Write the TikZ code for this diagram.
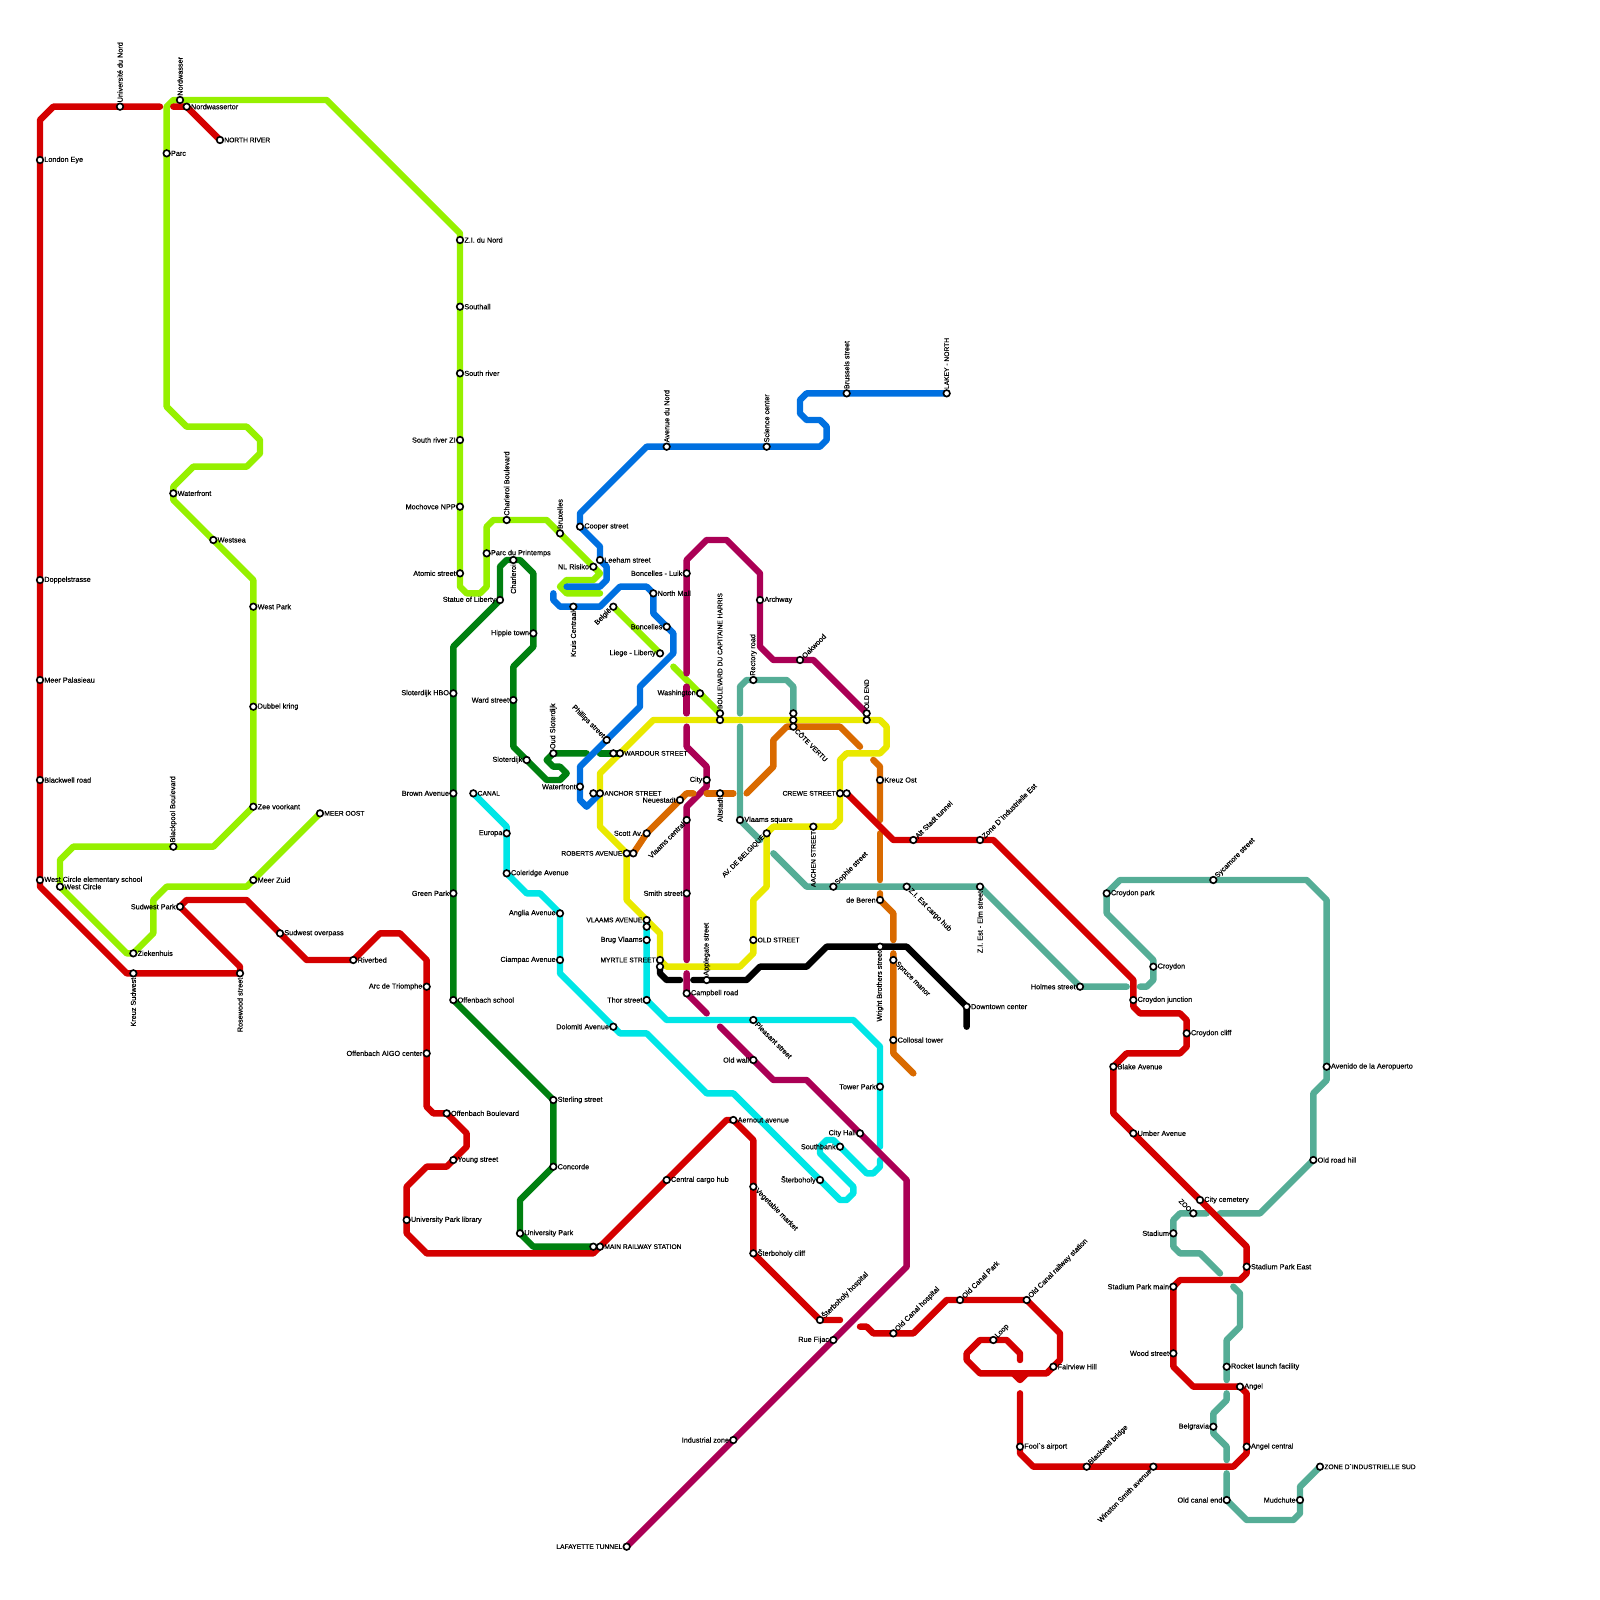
\documentclass[tikz,border=0pt]{standalone}
\usepackage{fontspec}
\newfontfamily\labfont[FakeBold=0.4]{Liberation Sans}
\usetikzlibrary{backgrounds}

\definecolor{redl}{HTML}{D40000}
\definecolor{limel}{HTML}{96F000}
\definecolor{bluel}{HTML}{0070E0}
\definecolor{greenl}{HTML}{008010}
\definecolor{magl}{HTML}{AA0055}
\definecolor{yell}{HTML}{E9E900}
\definecolor{teall}{HTML}{55AD96}
\definecolor{cyanl}{HTML}{00E6E6}
\definecolor{orl}{HTML}{D96A00}

\newcommand{\capsz}{\fontsize{5.7}{7}\selectfont}

\tikzset{
  stn/.style={circle,draw=black,fill=white,line width=1.4pt,minimum size=5.6pt,inner sep=0pt,label distance=1.8pt},
  labtext/.style={font=\labfont\fontsize{6.2}{7}\selectfont,inner sep=0pt,text=black},
  tr/.style={label={[labtext,anchor=west]right:#1}},
  tl/.style={label={[labtext,anchor=east]left:#1}},
  tu/.style={label={[labtext,rotate=90,anchor=west]90:#1}},
  td/.style={label={[labtext,rotate=90,anchor=east]270:#1}},
  tne/.style={label={[labtext,rotate=45,anchor=west]45:#1}},
  tse/.style={label={[labtext,rotate=-45,anchor=west]-45:#1}},
  tsw/.style={label={[labtext,rotate=45,anchor=east]225:#1}},
  tnw/.style={label={[labtext,rotate=-45,anchor=east]135:#1}},
  metro/.style={line width=5.5pt,line cap=round,line join=round},
}

\begin{document}
\begin{tikzpicture}[x=0.2cm,y=-0.2cm]
\useasboundingbox (0,0) rectangle (240,240);

\node[stn,tu=Université du Nord] (unord) at (18,16) {};
\node[stn,tr=London Eye] (londoneye) at (6,24) {};
\node[stn,tr=Doppelstrasse] (doppel) at (6,87) {};
\node[stn,tr=Meer Palasieau] (meerpal) at (6,102) {};
\node[stn,tr=Blackwell road] (blackwellrd) at (6,117) {};
\node[stn,tr=West Circle elementary school] (westschool) at (6,132) {};
\node[stn,tr=West Circle] (westcircle) at (9,133) {};
\node[stn,tr=Ziekenhuis] (zieken) at (20,143) {};
\node[stn,td=Kreuz Sudwest] (kreuzsw) at (20,146) {};
\node[stn,td=Rosewood street] (rosewood) at (36,146) {};
\node[stn,tl=Sudwest Park] (sudwestpk) at (27,136) {};
\node[stn,tr=Sudwest overpass] (sudwestov) at (42,140) {};
\node[stn,tr=Riverbed] (riverbed) at (53,144) {};
\node[stn,tl=Arc de Triomphe] (arc) at (64,148) {};
\node[stn,tl=Offenbach AIGO center] (aigo) at (64,158) {};
\node[stn,tr=Offenbach Boulevard] (offblvd) at (67,167) {};
\node[stn,tr=Young street] (young) at (68,174) {};
\node[stn,tr=University Park library] (unilib) at (61,183) {};

\node[stn,tu=Nordwasser] (nordw) at (27,15) {};
\node[stn,tr=Nordwassertor] (nordwt) at (28,16) {};
\node[stn,tr=\capsz NORTH RIVER] (northriver) at (33,21) {};
\node[stn,tr=Parc] (parc) at (25,23) {};
\node[stn,tr=Waterfront] (waterfronta) at (26,74) {};
\node[stn,tr=Westsea] (westsea) at (32,81) {};
\node[stn,tr=West Park] (westpark) at (38,91) {};
\node[stn,tr=Dubbel kring] (dubbel) at (38,106) {};
\node[stn,tr=Zee voorkant] (zee) at (38,121) {};
\node[stn,tu=Blackpool Boulevard] (blackpool) at (26,127) {};
\node[stn,tr=Meer Zuid] (meerzuid) at (38,132) {};
\node[stn,tr=\capsz MEER OOST] (meeroost) at (48,122) {};

\node[stn,tr=Z.I. du Nord] (zinord) at (69,36) {};
\node[stn,tr=Southall] (southall) at (69,46) {};
\node[stn,tr=South river] (southriver) at (69,56) {};
\node[stn,tl=South river ZI] (southzi) at (69,66) {};
\node[stn,tl=Mochovce NPP] (mochovce) at (69,76) {};
\node[stn,tl=Atomic street] (atomic) at (69,86) {};
\node[stn,tu=Charleroi Boulevard] (charblvd) at (76,78) {};
\node[stn,tr=Parc du Printemps] (printemps) at (73,83) {};
\node[stn,tu=Bruxelles] (bruxelles) at (84,80) {};
\node[stn,tl=NL Risiko] (risiko) at (89,85) {};
\node[stn,tr=Cooper street] (cooper) at (87,79) {};
\node[stn,tr=Leeham street] (leeham) at (90,84) {};

\node[stn,tl=Statue of Liberty] (liberty) at (75,90) {};
\node[stn,td=Charleroi] (charleroi) at (77,84) {};
\node[stn,tl=Hippie town] (hippie) at (80,95) {};
\node[stn,tl=Sloterdijk HBO] (slothbo) at (68,104) {};
\node[stn,tl=Ward street] (ward) at (77,105) {};
\node[stn,tl=Sloterdijk] (sloterdijk) at (79,114) {};
\node[stn,tu=Oud Sloterdijk] (oudslot) at (83,113) {};
\node[stn,tl=Brown Avenue] (brown) at (68,119) {};
\node[stn,tl=Green Park] (greenpk) at (68,134) {};
\node[stn,tr=Offenbach school] (offschool) at (68,150) {};
\node[stn,tr=Sterling street] (sterling) at (83,165) {};
\node[stn,tr=Concorde] (concorde) at (83,175) {};
\node[stn,tr=University Park] (unipark) at (78,185) {};
\node[stn] (mainw) at (89,187) {};
\node[stn,tr=\capsz MAIN RAILWAY STATION] (maine) at (90,187) {};

\node[stn,tl=Waterfront] (waterfrontb) at (87,118) {};
\node[stn] (anchorw) at (89,119) {};
\node[stn,tr=\capsz ANCHOR STREET] (anchore) at (90,119) {};
\node[stn] (wardourw) at (92,113) {};
\node[stn,tr=\capsz WARDOUR STREET] (wardoure) at (93,113) {};
\node[stn,tnw=Phillips street] (phillips) at (91,111) {};
\node[stn,td=Kruis Centraal] (kruis) at (86,91) {};
\node[stn,tsw=België] (belgie) at (92,91) {};
\node[stn,tr=North Mall] (northmall) at (98,89) {};
\node[stn,tl=Boncelles] (boncelles) at (100,94) {};
\node[stn,tl=Liege - Liberty] (liege) at (99,98) {};
\node[stn,tl=Boncelles - Luik] (luik) at (103,86) {};
\node[stn,tl=Washington] (washington) at (105,104) {};
\node[stn,tu=\capsz BOULEVARD DU CAPITAINE HARRIS] (capitaine) at (108,107) {};
\node[stn] (capitaines) at (108,108) {};
\node[stn,tu=Rectory road] (rectory) at (113,102) {};
\node[stn,tr=Archway] (archway) at (114,90) {};
\node[stn,tne=Oakwood] (oakwood) at (120,99) {};
\node[stn,tu=\capsz OLD END] (oldend) at (130,107) {};
\node[stn] (oldends) at (130,108) {};
\node[stn] (coten) at (119,107) {};
\node[stn] (cotem) at (119,108) {};
\node[stn,tse=\capsz CÔTE VERTU] (cote) at (119,109) {};

\node[stn,tu=Avenue du Nord] (avnord) at (100,67) {};
\node[stn,tu=Science center] (science) at (115,67) {};
\node[stn,tu=Brussels street] (brussels) at (127,59) {};
\node[stn,tu=\capsz LAKEY - NORTH] (lakey) at (142,59) {};

\node[stn,tr=Kreuz Ost] (kreuzost) at (132,117) {};
\node[stn,tl=\capsz CREWE STREET] (crewew) at (126,119) {};
\node[stn] (crewee) at (127,119) {};
\node[stn,tl=City] (city) at (106,117) {};
\node[stn,td=Altstadt] (altstadt) at (108,119) {};
\node[stn,tl=Neuestadt] (neuestadt) at (102,120) {};
\node[stn,tr=Vlaams square] (vlsquare) at (111,123) {};
\node[stn,tl=Scott Av.] (scott) at (97,125) {};
\node[stn,tl=\capsz ROBERTS AVENUE] (robertsw) at (94,128) {};
\node[stn] (robertse) at (95,128) {};
\node[stn,tsw=Vlaams central] (vlcentral) at (103,123) {};
\node[stn,tsw=\capsz AV. DE BELGIQUE] (avbelg) at (115,125) {};
\node[stn,td=\capsz AACHEN STREET] (aachen) at (122,124) {};
\node[stn,tne=Sophie street] (sophie) at (125,133) {};
\node[stn,tne=Alt Stadt tunnel] (altstadttun) at (137,126) {};
\node[stn,tne=Zone D`Industrielle Est] (zoneest) at (147,126) {};
\node[stn,tse=Z.I. Est cargo hub] (cargohub) at (136,133) {};
\node[stn,td=Z.I. Est - Elm street] (elm) at (147,133) {};
\node[stn,tl=de Beren] (deberen) at (132,135) {};
\node[stn,tl=Smith street] (smith) at (103,134) {};
\node[stn,tr=\capsz OLD STREET] (oldstreet) at (113,141) {};
\node[stn,tl=\capsz VLAAMS AVENUE] (vlaamsav) at (97,138) {};
\node[stn] (vlaamsavs) at (97,139) {};
\node[stn,tl=Brug Vlaams] (brug) at (97,141) {};
\node[stn,tl=\capsz MYRTLE STREET] (myrtle) at (99,144) {};
\node[stn] (myrtles) at (99,145) {};
\node[stn,tu=Applegate street] (applegate) at (106,147) {};
\node[stn,tr=Campbell road] (campbell) at (103,149) {};
\node[stn,tl=Thor street] (thor) at (97,150) {};
\node[stn,td=Wright Brothers street] (wright) at (132,142) {};
\node[stn,tse=Spruce manor] (spruce) at (134,144) {};
\node[stn,tr=Collosal tower] (collosal) at (134,156) {};
\node[stn,tr=Downtown center] (downtown) at (145,151) {};

\node[stn,tr=\capsz CANAL] (canal) at (71,119) {};
\node[stn,tl=Europa] (europa) at (76,125) {};
\node[stn,tr=Coleridge Avenue] (coleridge) at (76,131) {};
\node[stn,tl=Anglia Avenue] (anglia) at (84,137) {};
\node[stn,tl=Ciampac Avenue] (ciampac) at (84,144) {};
\node[stn,tl=Dolomiti Avenue] (dolomiti) at (92,154) {};
\node[stn,tl=Tower Park] (towerpk) at (132,163) {};
\node[stn,tse=Pleasant street] (pleasant) at (113,153) {};
\node[stn,tl=Old wall] (oldwall) at (113,159) {};
\node[stn,tl=City Hall] (cityhall) at (129,170) {};
\node[stn,tl=Southbank] (southbank) at (126,172) {};
\node[stn,tl=Šterboholy] (sterb) at (123,177) {};
\node[stn,tr=Central cargo hub] (centralcargo) at (100,177) {};
\node[stn,tr=Aernout avenue] (aernout) at (110,168) {};
\node[stn,tse=Vegetable market] (vegetable) at (113,178) {};
\node[stn,tr=Šterboholy cliff] (sterbcliff) at (113,188) {};
\node[stn,tne=Šterboholy hospital] (sterbhosp) at (123,198) {};
\node[stn,tl=Rue Fijac] (ruefijac) at (125,201) {};
\node[stn,tl=Industrial zone] (industrial) at (110,216) {};
\node[stn,tl=\capsz LAFAYETTE TUNNEL] (lafayette) at (94,232) {};

\node[stn,tne=Old Canal hospital] (canalhosp) at (134,200) {};
\node[stn,tne=Old Canal Park] (canalpk) at (144,195) {};
\node[stn,tne=Old Canal railway station] (canalrail) at (154,195) {};
\node[stn,tne=Loop] (loop) at (149,201) {};
\node[stn,tr=Fairview Hill] (fairview) at (158,205) {};
\node[stn,tr=Fool`s airport] (fools) at (153,217) {};
\node[stn,tne=Blackwell bridge] (blackwellbr) at (163,220) {};
\node[stn,tsw=Winston Smith avenue] (winston) at (173,220) {};
\node[stn,tl=Old canal end] (canalend) at (184,225) {};
\node[stn,tl=Mudchute] (mudchute) at (195,225) {};
\node[stn,tr=\capsz ZONE D`INDUSTRIELLE SUD] (zonesud) at (198,220) {};
\node[stn,tr=Angel central] (angelc) at (187,217) {};
\node[stn,tl=Belgravia] (belgravia) at (182,214) {};
\node[stn,tr=Angel] (angel) at (186,208) {};
\node[stn,tr=Rocket launch facility] (rocket) at (184,205) {};
\node[stn,tl=Wood street] (wood) at (176,203) {};
\node[stn,tl=Stadium Park main] (stadmain) at (176,193) {};
\node[stn,tr=Stadium Park East] (stadeast) at (187,190) {};
\node[stn,tl=Stadium] (stadium) at (176,185) {};
\node[stn,tnw=\capsz ZOO] (zoo) at (179,182) {};
\node[stn,tr=City cemetery] (cemetery) at (180,180) {};
\node[stn,tr=Old road hill] (oldroad) at (197,174) {};
\node[stn,tr=Avenido de la Aeropuerto] (avenido) at (199,160) {};
\node[stn,tr=Umber Avenue] (umber) at (170,170) {};
\node[stn,tr=Blake Avenue] (blake) at (167,160) {};
\node[stn,tr=Croydon cliff] (croycliff) at (178,155) {};
\node[stn,tr=Croydon junction] (croyjunc) at (170,150) {};
\node[stn,tl=Holmes street] (holmes) at (162,148) {};
\node[stn,tr=Croydon] (croydon) at (173,145) {};
\node[stn,tr=Croydon park] (croypark) at (166,134) {};
\node[stn,tne=Sycamore street] (sycamore) at (182,132) {};

\begin{pgfonlayer}{background}

\draw[metro,black] (myrtles.center) -- (99,146) -- (100,147) -- (102,147);
\draw[metro,black] (104,147) -- (applegate.center) -- (112,147) -- (114,145) -- (121,145) -- (124,142) -- (wright.center) -- (136,142) -- (downtown.center) -- (145,154);

\draw[metro,yell] (98,108) -- (90,116) -- (anchore.center) -- (90,124) -- (robertsw.center) -- (94,135) -- (99,140) -- (myrtle.center) -- (100,145) -- (111,145) -- (113,143) -- (oldstreet.center) -- (113,135) -- (115,133) -- (avbelg.center) -- (116,124) -- (aachen.center) -- (125,124) -- (126,123) -- (126,114) -- (127,113) -- (132,113) -- (133,112) -- (133,109) -- (132,108) -- (oldends.center) -- (cotem.center) -- (capitaines.center) -- cycle;

\draw[metro,limel] (nordw.center) -- (49,15) -- (69,35) -- (zinord.center) -- (southall.center) -- (southriver.center) -- (southzi.center) -- (mochovce.center) -- (atomic.center) -- (69,88) -- (70,89) -- (72,89) -- (73,88) -- (printemps.center) -- (73,79) -- (74,78) -- (charblvd.center) -- (82,78) -- (bruxelles.center) -- (risiko.center) -- (90,86) -- (89,87) -- (85,87) -- (84,88) -- (85,89) -- (90,89);
\draw[metro,limel] (nordw.center) -- (26,15) -- (25,16) -- (parc.center) -- (25,61) -- (28,64) -- (37,64) -- (39,66) -- (39,68) -- (37,70) -- (29,70) -- (26,73) -- (waterfronta.center) -- (26,75) -- (westsea.center) -- (38,87) -- (westpark.center) -- (dubbel.center) -- (zee.center) -- (32,127) -- (blackpool.center) -- (11,127) -- (9,129) -- (westcircle.center) -- (19,143) -- (zieken.center) -- (23,140) -- (23,135) -- (25,133) -- (37,133) -- (meerzuid.center) -- (meeroost.center);
\draw[metro,limel] (belgie.center) -- (liege.center);
\draw[metro,limel] (101,100) -- (washington.center) -- (capitaine.center);

\draw[metro,greenl] (charleroi.center) -- (76,84) -- (75,85) -- (liberty.center) -- (68,97) -- (slothbo.center) -- (brown.center) -- (greenpk.center) -- (offschool.center) -- (sterling.center) -- (concorde.center) -- (78,180) -- (unipark.center) -- (80,187) -- (mainw.center);
\draw[metro,greenl] (charleroi.center) -- (78,84) -- (80,86) -- (hippie.center) -- (80,97) -- (77,100) -- (ward.center) -- (77,112) -- (sloterdijk.center) -- (82,117) -- (84,117) -- (85,116) -- (84,115) -- (83,115) -- (82,114) -- (oudslot.center) -- (88,113);
\draw[metro,greenl] (90,113) -- (wardourw.center) -- (wardoure.center);

\draw[metro,bluel] (85,88) -- (90,88) -- (91,87) -- (91,85) -- (leeham.center) -- (90,82) -- (cooper.center) -- (87,77) -- (97,67) -- (avnord.center) -- (science.center) -- (123,67) -- (124,66) -- (124,64) -- (123,63) -- (121,63) -- (120,62) -- (120,60) -- (121,59) -- (brussels.center) -- (lakey.center);
\draw[metro,bluel] (83,89) -- (83,90) -- (84,91) -- (kruis.center) -- (90,91) -- (93,88) -- (97,88) -- (northmall.center) -- (98,92) -- (boncelles.center) -- (101,95) -- (101,98) -- (96,103) -- (96,106) -- (phillips.center) -- (87,115) -- (waterfrontb.center) -- (87,120) -- (88,121) -- (anchore.center);

\draw[metro,cyanl] (canal.center) -- (76,124) -- (europa.center) -- (coleridge.center) -- (79,134) -- (81,134) -- (anglia.center) -- (ciampac.center) -- (84,146) -- (dolomiti.center) -- (93,155) -- (97,155) -- (106,164) -- (110,164) -- (sterb.center) -- (126,180) -- (127,180) -- (128,179) -- (128,178) -- (123,173) -- (123,172) -- (124,171) -- (125,171) -- (southbank.center) -- (130,176) -- (131,176) -- (132,175) -- (132,174);
\draw[metro,cyanl] (vlaamsav.center) -- (vlaamsavs.center) -- (brug.center) -- (thor.center) -- (100,153) -- (pleasant.center) -- (128,153) -- (132,157) -- (towerpk.center) -- (132,172);

\draw[metro,magl] (103,101) -- (luik.center) -- (103,84) -- (106,81) -- (109,81) -- (114,86) -- (archway.center) -- (114,97) -- (116,99) -- (oakwood.center) -- (122,99) -- (oldend.center);
\draw[metro,magl] (103,103) -- (103,107);
\draw[metro,magl] (103,109) -- (103,112) -- (106,115) -- (city.center) -- (106,118) -- (103,121) -- (vlcentral.center) -- (smith.center) -- (103,144);
\draw[metro,magl] (103,146) -- (campbell.center) -- (106,152);
\draw[metro,magl] (108,154) -- (oldwall.center) -- (116,162) -- (121,162) -- (cityhall.center) -- (136,177) -- (136,190) -- (ruefijac.center) -- (industrial.center) -- (lafayette.center);

\draw[metro,orl] (robertse.center) -- (scott.center) -- (neuestadt.center) -- (103,119) -- (104,119);
\draw[metro,orl] (106,119) -- (altstadt.center) -- (110,119);
\draw[metro,orl] (112,119) -- (116,115) -- (116,111) -- (118,109) -- (cote.center) -- (126,109) -- (129,112);
\draw[metro,orl] (131,114) -- (132,115) -- (kreuzost.center) -- (132,123);
\draw[metro,orl] (132,125) -- (132,132);
\draw[metro,orl] (132,134) -- (deberen.center) -- (134,137) -- (134,141);
\draw[metro,orl] (134,143) -- (spruce.center) -- (collosal.center) -- (134,158) -- (137,161);

\draw[metro,teall] (111,107) -- (111,103) -- (112,102) -- (rectory.center) -- (118,102) -- (119,103) -- (coten.center);
\draw[metro,teall] (111,109) -- (vlsquare.center) -- (114,126);
\draw[metro,teall] (116,128) -- (121,133) -- (sophie.center) -- (cargohub.center) -- (elm.center) -- (holmes.center) -- (169,148);
\draw[metro,teall] (171,148) -- (172,148) -- (173,147) -- (croydon.center) -- (173,144) -- (166,137) -- (croypark.center) -- (168,132) -- (sycamore.center) -- (196,132) -- (199,135) -- (avenido.center) -- (199,162) -- (197,164) -- (oldroad.center) -- (189,182) -- (183,182);
\draw[metro,teall] (181,182) -- (zoo.center) -- (177,182) -- (176,183) -- (stadium.center) -- (176,187) -- (177,188) -- (180,188) -- (183,191);
\draw[metro,teall] (185,193) -- (186,194) -- (186,199) -- (184,201) -- (rocket.center) -- (184,207);
\draw[metro,teall] (184,209) -- (184,210) -- (182,212) -- (belgravia.center) -- (182,215) -- (184,217) -- (184,219);
\draw[metro,teall] (184,221) -- (canalend.center) -- (187,228) -- (194,228) -- (195,227) -- (mudchute.center) -- (195,223) -- (zonesud.center);

\draw[metro,redl] (24,16) -- (unord.center) -- (8,16) -- (6,18) -- (londoneye.center) -- (doppel.center) -- (meerpal.center) -- (blackwellrd.center) -- (westschool.center) -- (6,133) -- (19,146) -- (kreuzsw.center) -- (rosewood.center) -- (36,145) -- (sudwestpk.center) -- (28,135) -- (37,135) -- (sudwestov.center) -- (46,144) -- (riverbed.center) -- (57,140) -- (60,140) -- (64,144) -- (arc.center) -- (aigo.center) -- (64,166) -- (65,167) -- (offblvd.center) -- (70,170) -- (70,172) -- (young.center) -- (67,175) -- (64,175) -- (61,178) -- (unilib.center) -- (61,185) -- (64,188) -- (89,188) -- (maine.center) -- (centralcargo.center) -- (109,168) -- (aernout.center) -- (113,171) -- (vegetable.center) -- (sterbcliff.center) -- (sterbhosp.center) -- (126,198);
\draw[metro,redl] (26,16) -- (nordwt.center) -- (northriver.center);
\draw[metro,redl] (129,199) -- (130,199) -- (131,200) -- (canalhosp.center) -- (137,200) -- (142,195) -- (canalpk.center) -- (canalrail.center) -- (159,200) -- (159,204) -- (fairview.center) -- (157,206) -- (147,206) -- (145,204) -- (145,203) -- (147,201) -- (loop.center) -- (151,201) -- (153,203) -- (153,204);
\draw[metro,redl] (152,206) -- (153,207) -- (154,206);
\draw[metro,redl] (153,209) -- (fools.center) -- (153,218) -- (155,220) -- (blackwellbr.center) -- (winston.center) -- (185,220) -- (187,218) -- (angelc.center) -- (187,209) -- (angel.center) -- (179,208) -- (176,205) -- (wood.center) -- (stadmain.center) -- (177,192) -- (186,192) -- (187,191) -- (stadeast.center) -- (187,187) -- (cemetery.center) -- (umber.center) -- (167,167) -- (blake.center) -- (169,158) -- (177,158) -- (178,157) -- (croycliff.center) -- (178,153) -- (177,152) -- (171,152) -- (170,151) -- (croyjunc.center) -- (170,147) -- (149,126) -- (zoneest.center) -- (altstadttun.center) -- (134,126) -- (crewee.center);

\end{pgfonlayer}

\end{tikzpicture}
\end{document}
